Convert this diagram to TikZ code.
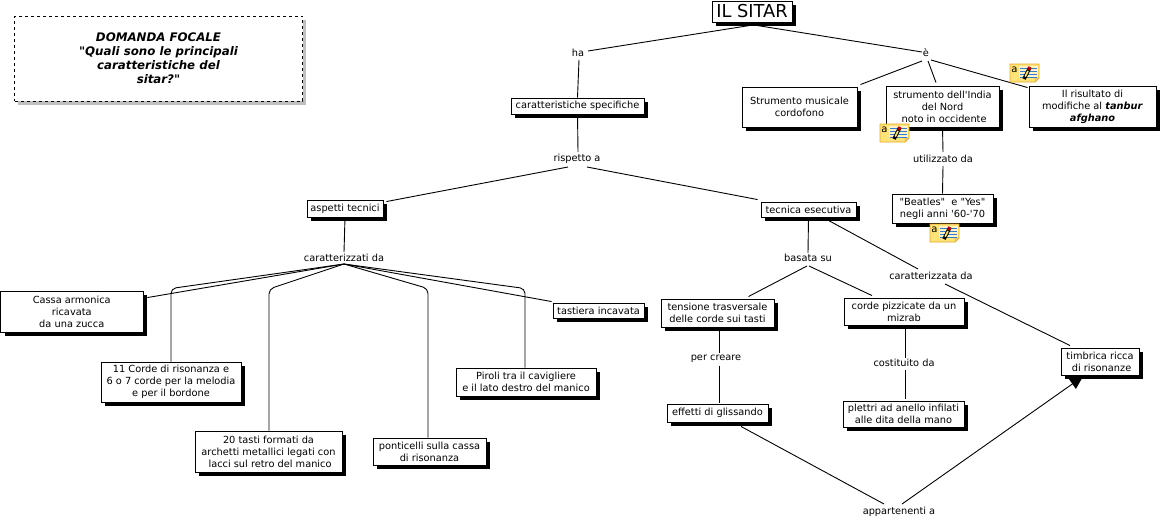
\documentclass[tikz,border=0pt]{standalone}
\usepackage{fontspec}
\setmainfont{DejaVu Sans}[Ligatures=TeXOff]
\usetikzlibrary{shadows,arrows.meta,backgrounds}
\definecolor{notefill}{RGB}{255,226,120}
\definecolor{noteedge}{RGB}{226,172,30}
\definecolor{noteline}{RGB}{50,125,200}
\tikzset{
	x=1pt,y=-1pt,
	concept/.style={draw,line width=0.9pt,fill=white,align=center,inner sep=0pt,font=\fontsize{9.8}{12}\selectfont,
		drop shadow={shadow xshift=4pt,shadow yshift=-4pt,fill=black,opacity=1}},
	phrase/.style={inner sep=1pt,text height=8.5pt,text depth=1.5pt,font=\fontsize{9.8}{12}\selectfont},
	link/.style={line width=0.9pt,rounded corners=5pt},
	notepad/.pic={
		\draw [noteedge,fill=notefill,line width=0.9pt] (0,0) -- (29,0) -- (29,14) -- (25,18) -- (0,18) -- cycle;
		\draw [noteedge,fill=noteedge!60] (29,14) -- (25,14) -- (25,18) -- cycle;
		\fill [white!60!notefill] (9,2) rectangle (28,13);
		\node [inner sep=0pt,font=\fontsize{10}{10}\selectfont] (-letter) at (4.5,5.5) {a};
		\foreach \y in {4,7,10,13}
			\draw [noteline,line width=1pt] (10,\y) -- (27,\y);
		\draw [black,line width=3.6pt] (14,15) -- (19.5,4);
		\draw [notefill,line width=1.6pt] (15.2,12.6) -- (18,7);
		\draw [red!70!black,line width=3.2pt] (18.5,6) -- (20,3);
	}
}
\newcommand{\boxat}[6]{%
	\node [concept,minimum width=#3pt-#2pt,minimum height=#5pt-#4pt] (#1) at ({(#2+#3)/2},{(#4+#5)/2}) {#6};}
\begin{document}
\begin{tikzpicture}
	\useasboundingbox (0,0) rectangle (1162,520);
	% question box
	\node [draw,dashed,line width=0.9pt,fill=white,align=center,minimum width=288pt,minimum height=85pt,inner sep=0pt,
		font=\fontsize{11.8}{14}\selectfont\bfseries\itshape,
		drop shadow={shadow xshift=3.5pt,shadow yshift=-3.5pt,fill=black!25,opacity=1}] (focus) at (158.5,58.5)
		{DOMANDA FOCALE\\"Quali sono le principali\\caratteristiche del\\sitar?"};
	% concepts
	\node [concept,minimum width=80pt,minimum height=21pt,font=\fontsize{17.8}{20}\selectfont] (sitar) at (752,11.5) {IL SITAR};
	\boxat{specifiche}{511}{644}{98}{114}{caratteristiche specifiche}
	\boxat{musicale}{742}{857}{87}{127}{Strumento musicale\\cordofono}
	\boxat{india}{886}{999}{86}{127}{strumento dell'India\\del Nord\\\ noto in occidente}
	\boxat{afghano}{1029}{1156}{86}{127}{Il risultato di\\modifiche al \textbf{\textit{tanbur}}\\\textbf{\textit{afghano}}}
	\boxat{beatles}{892}{993}{194}{223}{"Beatles"\ \ e "Yes"\\negli anni '60-'70}
	\boxat{tecnica}{761}{856}{202}{217}{tecnica esecutiva}
	\boxat{aspetti}{307}{383}{200}{217}{aspetti tecnici}
	\boxat{cassa}{0.5}{143}{291}{332}{Cassa armonica\\ricavata\\da una zucca}
	\boxat{corde}{101}{241}{362}{402}{11 Corde di risonanza e\\6 o 7 corde per la melodia\\e per il bordone}
	\boxat{tasti}{195}{342}{431}{472}{20 tasti formati da\\archetti metallici legati con\\\ lacci sul retro del manico}
	\boxat{ponticelli}{373}{486}{438}{465}{ponticelli sulla cassa\\di risonanza}
	\boxat{piroli}{456}{596}{368}{396}{Piroli tra il cavigliere\\e il lato destro del manico}
	\boxat{tastiera}{553}{644}{303}{318}{tastiera incavata}
	\boxat{tensione}{661}{774}{299}{327}{tensione trasversale\\delle corde sui tasti}
	\boxat{pizzicate}{844}{964}{298}{325}{corde pizzicate da un\\mizrab}
	\boxat{glissando}{667}{768}{404}{422}{effetti di glissando}
	\boxat{plettri}{843}{964}{401}{427}{plettri ad anello infilati\\alle dita della mano}
	\boxat{timbrica}{1061}{1139}{348}{375}{timbrica ricca\\\ di risonanze}
	% linking phrases
	\node [phrase] (ha) at (578,53) {ha};
	\node [phrase] (e) at (926,53) {è};
	\node [phrase] (rispetto) at (577,158) {rispetto a};
	\node [phrase] (utilizzato) at (943,159) {utilizzato da};
	\node [phrase] (caratterizzati) at (344,258) {caratterizzati da};
	\node [phrase] (basata) at (808,258) {basata su};
	\node [phrase] (caratterizzata) at (931,276) {caratterizzata da};
	\node [phrase] (creare) at (716,357) {per creare};
	\node [phrase] (costituito) at (904,363) {costituito da};
	\node [phrase] (appartenenti) at (899,511) {appartenenti a};
	% bends
	\coordinate (hub) at ([shift={(0,6)}]caratterizzati.center);
	\coordinate (b1) at (171,288.5);
	\coordinate (b2) at (269,289);
	\coordinate (b3) at (428,288.5);
	\coordinate (b4) at (525,288.5);
	% connectors
	\begin{scope}[on background layer]
	\draw [link] ([shift={(-2,3)}]sitar.south) -- ([shift={(10,-2)}]ha.center);
	\draw [link] ([shift={(5,3)}]sitar.south) -- ([shift={(-4,-1)}]e.center);
	\draw [link] ([shift={(1,7)}]ha.center) -- (specifiche.north);
	\draw [link] ([shift={(-4,8)}]e.center) -- ([shift={(3,-2)}]musicale.north east);
	\draw [link] ([shift={(2,8)}]e.center) -- ([shift={(-6.5,-3)}]india.north);
	\draw [link] ([shift={(5,7)}]e.center) -- ([shift={(-1,2)}]afghano.north west);
	\draw [link] (india.south) -- ([shift={(0,-7)}]utilizzato.center);
	\draw [link] ([shift={(0,7)}]utilizzato.center) -- (beatles.north);
	\draw [link] (specifiche.south) -- ([shift={(1,-6)}]rispetto.center);
	\draw [link] ([shift={(-9,9)}]rispetto.center) -- ([shift={(3,2)}]aspetti.north east);
	\draw [link] ([shift={(10,9)}]rispetto.center) -- ([shift={(-3,-2)}]tecnica.north west);
	\draw [link] (aspetti.south) -- ([shift={(0,-6)}]caratterizzati.center);
	\draw [link] (hub) -- ([shift={(4,7)}]cassa.north east);
	\draw [link] (hub) -- (b1) -- (corde.north -| b1);
	\draw [link] (hub) -- (b2) -- (tasti.north -| b2);
	\draw [link] (hub) -- (b3) -- (ponticelli.north -| b3);
	\draw [link] (hub) -- (b4) -- (piroli.north -| b4);
	\draw [link] (hub) -- ([shift={(-1,-1)}]tastiera.north west);
	\draw [link] (tecnica.south) -- ([shift={(0,-5)}]basata.center);
	\draw [link] ([shift={(-1,8)}]basata.center) -- ([shift={(-26,-2)}]tensione.north east);
	\draw [link] ([shift={(1,8)}]basata.center) -- ([shift={(-32,-2)}]pizzicate.north);
	\draw [link] ([shift={(20,3)}]tecnica.south) -- ([shift={(-13,-7)}]caratterizzata.center);
	\draw [link] ([shift={(14,8)}]caratterizzata.center) -- ([shift={(-30,-2)}]timbrica.north);
	\draw [link] ([shift={(1.5,4)}]tensione.south) -- ([shift={(3,-4)}]creare.center);
	\draw [link] ([shift={(3,9)}]creare.center) -- ([shift={(1.5,-1)}]glissando.north);
	\draw [link] ([shift={(1,4)}]pizzicate.south) -- ([shift={(1,-5)}]costituito.center);
	\draw [link] ([shift={(1,7)}]costituito.center) -- ([shift={(1.5,-2)}]plettri.north);
	\draw [link] ([shift={(23.5,4)}]glissando.south) -- ([shift={(-15,-7)}]appartenenti.center);
	\draw [link,-{Triangle[length=13pt,width=12pt]}] ([shift={(3,-7)}]appartenenti.center) -- ([shift={(-17,1)}]timbrica.south);
	\end{scope}
	% notes
	\pic (note1) at (1010,64) {notepad};
	\pic (note2) at (880,124) {notepad};
	\pic (note3) at (930,224) {notepad};
\end{tikzpicture}
\end{document}
